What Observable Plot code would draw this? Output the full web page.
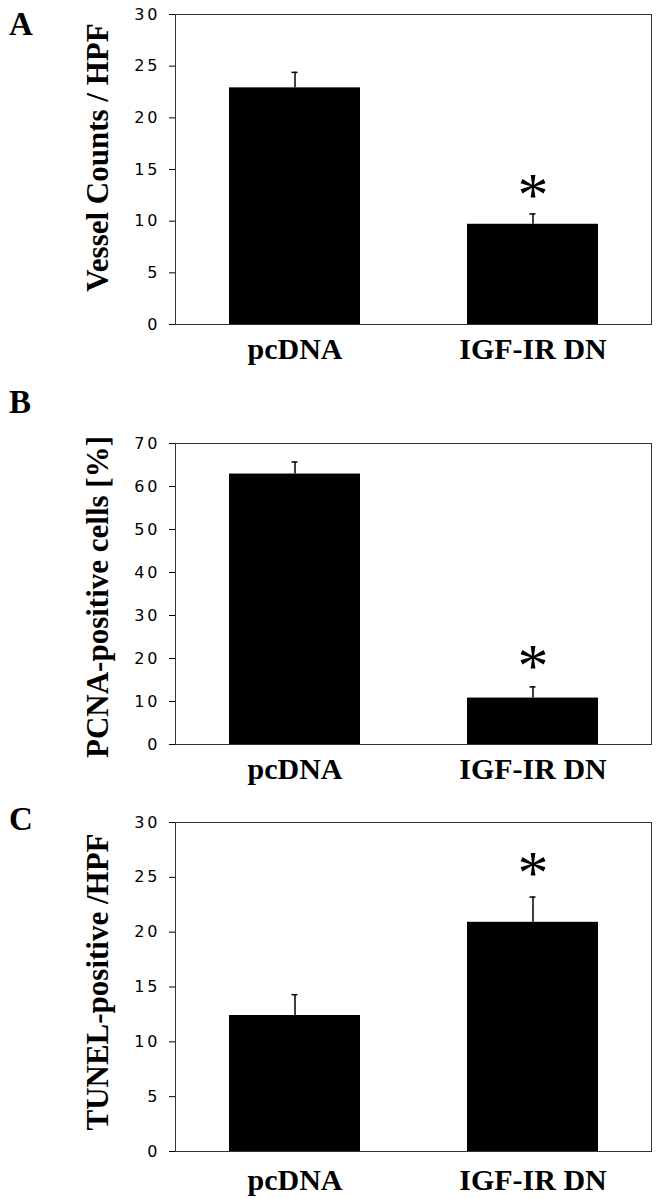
<!DOCTYPE html>
<html>
<head>
<meta charset="utf-8">
<script src="https://cdn.jsdelivr.net/npm/d3@7"></script>
<script src="https://cdn.jsdelivr.net/npm/@observablehq/plot@0.6"></script>
<style>
  html, body { margin: 0; padding: 0; background: white; }
  #wrap { position: relative; width: 657px; height: 1199px; overflow: hidden; background: white; }
  .panel { position: absolute; left: 0; }
  .letter { position: absolute; font-family: "Liberation Serif", "Times New Roman", serif; font-weight: bold; font-size: 33px; line-height: 33px; color: black; }
  g[aria-label="y-axis tick label"] { letter-spacing: 3px; }
</style>
</head>
<body>
<div id="wrap"></div>
<script>
// ---- data ----
const groups = ["pcDNA", "IGF-IR DN"];
const significant = [false, true];

const vesselMeans = [22.9, 9.7];
const vesselErrors = [1.5, 1.0];
const vesselTicks = [0, 5, 10, 15, 20, 25, 30];
const vesselLabel = "Vessel Counts / HPF";

const pcnaMeans = [62.9, 10.8];
const pcnaErrors = [2.8, 2.6];
const pcnaTicks = [0, 10, 20, 30, 40, 50, 60, 70];
const pcnaLabel = "PCNA-positive cells [%]";

const tunelMeans = [12.4, 20.9];
const tunelErrors = [1.9, 2.3];
const tunelTicks = [0, 5, 10, 15, 20, 25, 30];
const tunelLabel = "TUNEL-positive /HPF";

const panelLetters = ["A", "B", "C"];

// ---- drawing ----
const serif = "Liberation Serif, Times New Roman, serif";
const sans = "DejaVu Sans, Arial, sans-serif";

function makePanel(means, errors, ticks, label, opts) {
  const data = groups.map((g, i) => ({group: g, value: means[i], err: errors[i], sig: significant[i]}));
  return Plot.plot({
    width: 657,
    height: opts.height,
    marginLeft: 175,
    marginRight: 6,
    marginTop: opts.marginTop,
    marginBottom: opts.marginBottom,
    style: {background: "white", color: "black", fontFamily: sans, overflow: "visible"},
    x: {type: "band", domain: groups, paddingInner: 0.45, paddingOuter: 0.225},
    y: {domain: [ticks[0], ticks[ticks.length - 1]]},
    marks: [
      Plot.barY(data, {x: "group", y: "value", fill: "black"}),
      Plot.ruleX(data, {x: "group", y1: "value", y2: d => d.value + d.err, stroke: "black", strokeWidth: 1.5}),
      Plot.tickY(data, {x: "group", y: d => d.value + d.err, stroke: "black", strokeWidth: 1.5, insetLeft: 62.5, insetRight: 62.5}),
      Plot.text(data.filter(d => d.sig), {x: "group", y: d => d.value + d.err, text: () => "*", fontFamily: serif, fontSize: 62, lineAnchor: "middle", dy: opts.starDy, fill: "black"}),
      Plot.frame({stroke: "#333", strokeWidth: 1}),
      Plot.axisY({ticks: ticks, tickSize: 6, tickPadding: 9, fontSize: 16, fontFamily: sans, label: null}),
      Plot.axisX({tickSize: 0, tickPadding: opts.xPad, fontSize: 30, fontFamily: serif, fontWeight: "bold", label: null}),
      Plot.text([label], {text: d => d, frameAnchor: "left", textAnchor: "middle", rotate: -90, dx: -77, dy: opts.labelDy, fontFamily: serif, fontWeight: "bold", fontSize: 31, lineAnchor: "middle", fill: "black"})
    ]
  });
}

const wrap = document.getElementById("wrap");
const panels = [
  {top: 0, node: makePanel(vesselMeans, vesselErrors, vesselTicks, vesselLabel, {height: 372, marginTop: 14, marginBottom: 48, xPad: 13, labelDy: -12, starDy: -19}), letterTop: 8},
  {top: 400, node: makePanel(pcnaMeans, pcnaErrors, pcnaTicks, pcnaLabel, {height: 390, marginTop: 43, marginBottom: 46, xPad: 13, labelDy: 3, starDy: -21}), letterTop: 386},
  {top: 800, node: makePanel(tunelMeans, tunelErrors, tunelTicks, tunelLabel, {height: 399, marginTop: 22, marginBottom: 48, xPad: 17, labelDy: -5, starDy: -24}), letterTop: 803}
];
panels.forEach((p, i) => {
  const div = document.createElement("div");
  div.className = "panel";
  div.style.top = p.top + "px";
  div.appendChild(p.node);
  wrap.appendChild(div);
  const letter = document.createElement("div");
  letter.className = "letter";
  letter.style.top = p.letterTop + "px";
  letter.style.left = "9px";
  letter.textContent = panelLetters[i];
  wrap.appendChild(letter);
});
</script>
</body>
</html>
